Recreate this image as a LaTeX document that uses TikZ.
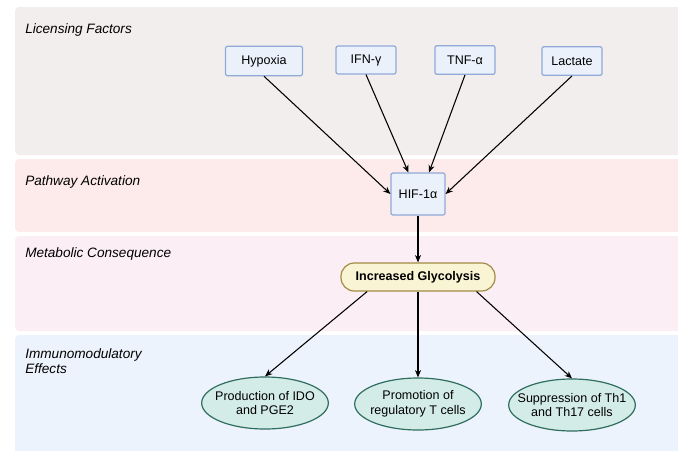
\documentclass[tikz,border=0pt]{standalone}
\usepackage{fontspec}
\setmainfont{Liberation Sans}
\usetikzlibrary{arrows.meta,shapes.geometric}
\definecolor{lanegrey}{HTML}{F2EEED}
\definecolor{lanered}{HTML}{FCEBEA}
\definecolor{lanepink}{HTML}{FCEEF5}
\definecolor{laneblue}{HTML}{EDF3FC}
\definecolor{boxfill}{HTML}{EAF1FB}
\definecolor{boxline}{HTML}{91A9D9}
\definecolor{pillfill}{HTML}{F8F4D4}
\definecolor{pillline}{HTML}{A18B45}
\definecolor{ovalfill}{HTML}{D4ECE7}
\definecolor{ovalline}{HTML}{2F6E5F}
\begin{document}
\begin{tikzpicture}
[x=0.75pt,y=-0.75pt,
  titledecorate/.style={anchor=north west,inner sep=0pt,align=left,
    font=\fontsize{10.2}{11.3}\selectfont\itshape},
  boxdecorate/.style={shape=rectangle,draw=boxline,fill=boxfill,line width=0.9pt,
    rounded corners=1.5pt,inner sep=0pt,font=\fontsize{9.4}{11}\selectfont},
  pilldecorate/.style={shape=rectangle,draw=pillline,fill=pillfill,line width=0.9pt,
    rounded corners=10pt,inner sep=0pt,minimum width=115.5pt,minimum height=21pt,
    font=\fontsize{9.4}{11}\selectfont\bfseries},
  ovaldecorate/.style={shape=ellipse,draw=ovalline,fill=ovalfill,line width=0.9pt,
    inner xsep=-10pt,inner ysep=2pt,minimum width=95pt,minimum height=39pt,align=center,
    font=\fontsize{9.4}{11}\selectfont},
  arrowdecorate/.style={-{Stealth[length=5.5pt,width=4.5pt]},line width=0.8pt}]
\useasboundingbox (0,0) rectangle (678,450);
%% lanes
\foreach \ytop/\ybot/\lanecolour in {7/155/lanegrey, 159/232/lanered,
  236/331/lanepink, 335/460/laneblue} {
  \fill[\lanecolour,rounded corners=3pt] (15,\ytop) rectangle (690,\ybot);
}
%% lane titles
\foreach \nodename/\y/\txt in {licensing/23/Licensing Factors,
  pathway/175/Pathway Activation, metabolic/247/Metabolic Consequence,
  immuno/348/Immunomodulatory\\Effects} {
  \node (\nodename) at (25,\y) [titledecorate] {\txt};
}
%% nodes or vertices
\foreach \nodename/\x/\y/\w/\h/\txt in {hypoxia/264/61/57.75pt/22pt/Hypoxia,
  ifng/366/60/45pt/21pt/IFN-γ, tnfa/465/60/45pt/21.5pt/TNF-α,
  lactate/572/61/45pt/21.5pt/Lactate, hif/418/194/40.5pt/31.5pt/HIF-1α} {
  \node (\nodename) at (\x,\y) [boxdecorate,minimum width=\w,minimum height=\h] {\txt};
}
\node (glycolysis) at (418,277) [pilldecorate] {Increased Glycolysis};
\foreach \nodename/\x/\y/\txt in {production/265/403/Production of IDO\\and PGE2,
  promotion/418/404/Promotion of\\regulatory T cells,
  suppression/572/405/Suppression of Th1\\and Th17 cells} {
  \node (\nodename) at (\x,\y) [ovaldecorate] {\txt};
}
%% edges or lines
\path
\foreach \startnode/\endnode in {hypoxia.south/hif.west, ifng.south/hif.114,
  tnfa.south/hif.63, lactate.south/hif.east, hif/glycolysis,
  glycolysis.196/production.north, glycolysis/promotion,
  glycolysis.-14/suppression.north} {
  (\startnode) edge[arrowdecorate] (\endnode)
};
\end{tikzpicture}
\end{document}
